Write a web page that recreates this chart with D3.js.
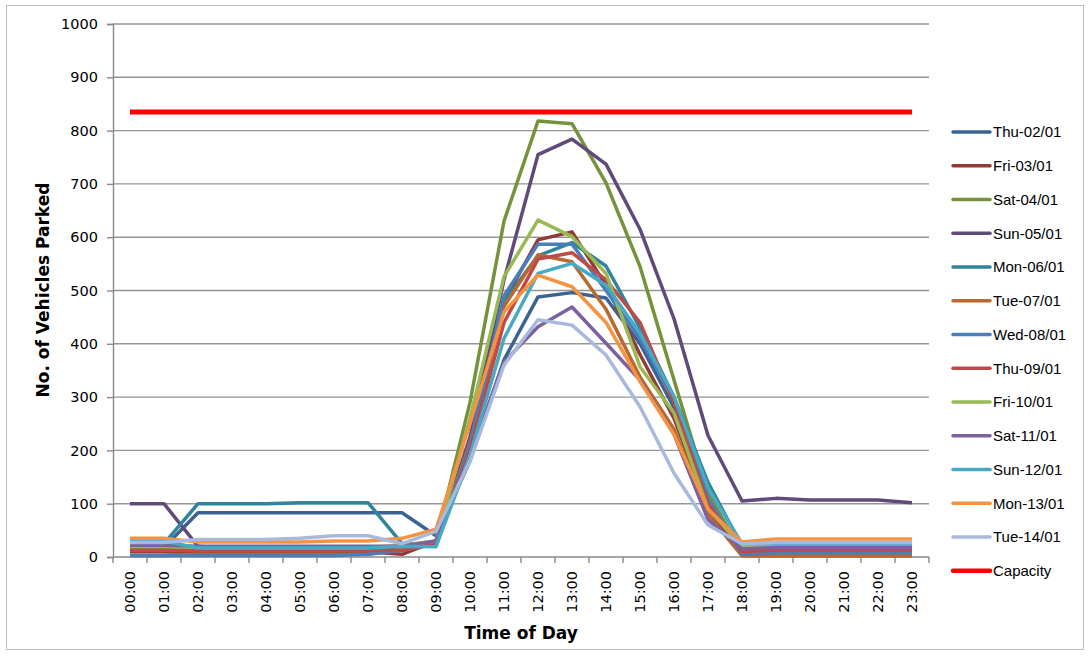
<!DOCTYPE html>
<html>
<head>
<meta charset="utf-8">
<script src="https://cdn.jsdelivr.net/npm/d3@7"></script>
<style>
  body { margin: 0; background: #fff; }
  svg { display: block; }
  .tick text { fill: #000; }
</style>
</head>
<body>
<div id="chart"></div>
<script>
// time of day categories
const hours = ['00:00','01:00','02:00','03:00','04:00','05:00','06:00','07:00','08:00','09:00','10:00','11:00',
               '12:00','13:00','14:00','15:00','16:00','17:00','18:00','19:00','20:00','21:00','22:00','23:00'];

const yTicks = [0, 100, 200, 300, 400, 500, 600, 700, 800, 900, 1000];

const days = ['Thu-02/01','Fri-03/01','Sat-04/01','Sun-05/01','Mon-06/01','Tue-07/01','Wed-08/01',
              'Thu-09/01','Fri-10/01','Sat-11/01','Sun-12/01','Mon-13/01','Tue-14/01'];

const thu02 = [18,18,83,83,83,83,83,83,83,40,180,370,488,496,486,400,280,100,15,10,10,10,10,10];
const fri03 = [10,10,8,8,8,8,10,10,5,30,210,480,595,610,510,380,260,90,5,15,15,15,15,15];
const sat04 = [15,15,15,15,15,15,15,15,15,30,290,630,818,813,702,545,332,120,8,5,5,5,5,5];
const sun05 = [100,100,20,15,15,15,15,15,15,30,225,520,755,784,737,615,447,228,105,110,107,107,107,102];
const mon06 = [25,25,100,100,100,102,102,102,25,25,200,480,565,590,546,430,300,140,20,24,24,24,24,24];
const tue07 = [3,3,5,5,5,5,5,5,15,30,215,470,567,554,465,338,240,80,2,2,2,2,2,2];
const wed08 = [3,3,3,3,3,3,3,5,12,25,210,490,587,587,500,410,295,110,5,8,8,8,8,8];
const thu09 = [12,12,12,12,12,12,12,12,12,25,200,440,559,571,520,440,290,100,10,13,13,13,13,13];
const fri10 = [20,20,18,18,18,18,18,18,22,30,260,526,632,601,532,357,270,90,20,20,20,20,20,20];
const sat11 = [22,22,20,20,20,20,20,20,20,30,190,366,432,469,401,332,230,70,15,18,18,18,18,18];
const sun12 = [30,30,17,17,17,17,17,17,20,19,190,410,532,551,510,420,301,130,25,26,26,26,26,26];
const mon13 = [35,35,28,28,28,28,30,30,35,52,250,460,529,507,440,329,230,90,28,34,34,34,34,34];
const tue14 = [27,27,33,33,33,35,40,40,25,48,180,360,445,435,379,282,157,60,25,27,27,27,27,27];
const capacity = [835,835,835,835,835,835,835,835,835,835,835,835,835,835,835,835,835,835,835,835,835,835,835,835];

const dayValues = [thu02, fri03, sat04, sun05, mon06, tue07, wed08, thu09, fri10, sat11, sun12, mon13, tue14];
const dayColors = ['#3b6392','#923a38','#76923c','#5f4a7a','#31849b','#b9692f','#4a7ebb',
                   '#be4b48','#98b954','#7d60a0','#46aac5','#f69240','#a7b9dd'];

const width = 1090, height = 657;
const plot = { left: 113, right: 929, top: 24, bottom: 557 };

const svg = d3.select('#chart').append('svg')
  .attr('width', width)
  .attr('height', height);

// outer chart border
svg.append('rect')
  .attr('x', 6.5).attr('y', 5.5)
  .attr('width', 1077).attr('height', 644)
  .attr('fill', '#fff')
  .attr('stroke', '#bfbfbf')
  .attr('stroke-width', 1);

const x = d3.scaleBand().domain(hours).range([plot.left, plot.right]).padding(0);
const y = d3.scaleLinear().domain([0, 1000]).range([plot.bottom, plot.top]);
const cx = h => x(h) + x.bandwidth() / 2;

// gridlines
svg.append('g')
  .selectAll('line')
  .data(yTicks.filter(t => t > 0))
  .join('line')
  .attr('x1', plot.left).attr('x2', plot.right)
  .attr('y1', d => y(d)).attr('y2', d => y(d))
  .attr('stroke', '#959595')
  .attr('stroke-width', 1.4);

// y axis
const yAxis = svg.append('g')
  .attr('transform', `translate(${plot.left},0)`)
  .call(d3.axisLeft(y).tickValues(yTicks).tickSize(6).tickPadding(9).tickFormat(d3.format('d')));
yAxis.select('.domain').attr('stroke', '#888').attr('stroke-width', 1.4);
yAxis.selectAll('.tick line').attr('stroke', '#888').attr('stroke-width', 1.4);
yAxis.selectAll('.tick text')
  .style('font-family', 'DejaVu Sans, sans-serif')
  .style('font-size', '14.5px');

// x axis: labels at category centres, tick marks at boundaries
const xAxis = svg.append('g')
  .attr('transform', `translate(0,${plot.bottom})`)
  .call(d3.axisBottom(x).tickSize(0).tickPadding(0));
xAxis.select('.domain').remove();
xAxis.selectAll('.tick text')
  .attr('transform', 'rotate(-90)')
  .attr('x', -14)
  .attr('y', 0)
  .attr('dy', '0.35em')
  .style('text-anchor', 'end')
  .style('font-family', 'DejaVu Sans, sans-serif')
  .style('font-size', '14.5px');

svg.append('line')
  .attr('x1', plot.left).attr('x2', plot.right)
  .attr('y1', plot.bottom).attr('y2', plot.bottom)
  .attr('stroke', '#888').attr('stroke-width', 1.4);

svg.append('g')
  .selectAll('line')
  .data(hours.map(h => x(h)).concat([plot.right]))
  .join('line')
  .attr('x1', d => d).attr('x2', d => d)
  .attr('y1', plot.bottom).attr('y2', plot.bottom + 6)
  .attr('stroke', '#888').attr('stroke-width', 1.4);

// series lines
const line = d3.line()
  .x((d, i) => cx(hours[i]))
  .y(d => y(d));

const series = days.map((name, i) => ({ name, values: dayValues[i], color: dayColors[i], width: 3.5 }));
series.push({ name: 'Capacity', values: capacity, color: '#ff0000', width: 5 });

svg.append('g')
  .selectAll('path')
  .data(series)
  .join('path')
  .attr('d', d => line(d.values))
  .attr('fill', 'none')
  .attr('stroke', d => d.color)
  .attr('stroke-width', d => d.width)
  .attr('stroke-linejoin', 'round');

// axis titles
svg.append('text')
  .attr('transform', 'translate(49,290) rotate(-90)')
  .attr('text-anchor', 'middle')
  .style('font-family', 'DejaVu Sans, sans-serif')
  .style('font-weight', 'bold')
  .style('font-size', '17px')
  .text('No. of Vehicles Parked');

svg.append('text')
  .attr('x', (plot.left + plot.right) / 2)
  .attr('y', 639)
  .attr('text-anchor', 'middle')
  .style('font-family', 'DejaVu Sans, sans-serif')
  .style('font-weight', 'bold')
  .style('font-size', '17px')
  .text('Time of Day');

// legend
const legend = svg.append('g')
  .selectAll('g')
  .data(series)
  .join('g')
  .attr('transform', (d, i) => `translate(953,${132 + i * 33.75})`);

legend.append('line')
  .attr('x1', 0).attr('x2', 37)
  .attr('stroke', d => d.color)
  .attr('stroke-width', d => d.name === 'Capacity' ? 4.5 : 3.5)
  .attr('stroke-linecap', 'round');

legend.append('text')
  .attr('x', 40)
  .attr('dy', '0.35em')
  .style('font-family', 'Liberation Sans, Arial, sans-serif')
  .style('font-size', '15px')
  .text(d => d.name);
</script>
</body>
</html>
